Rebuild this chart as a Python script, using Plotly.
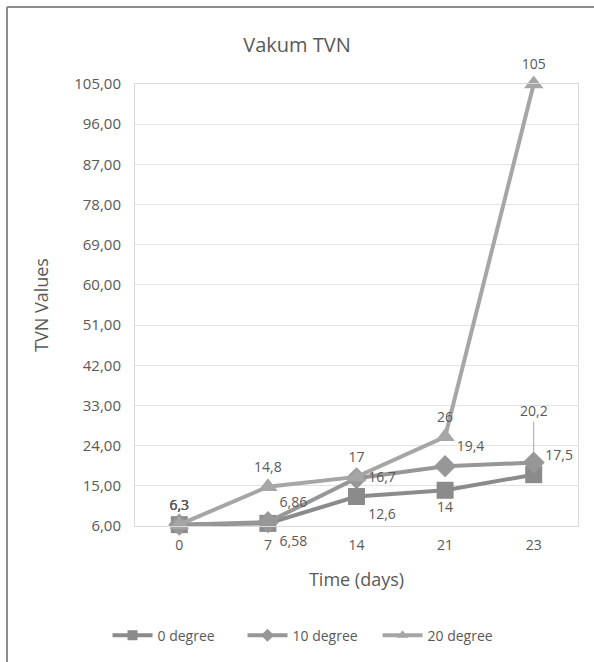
import plotly.graph_objects as go

days = ["0", "7", "14", "21", "23"]
deg0 = [6.3, 6.58, 12.6, 14, 17.5]
deg10 = [6.3, 6.86, 16.7, 19.4, 20.2]
deg20 = [6.3, 14.8, 17, 26, 105]
y_ticks = [6, 15, 24, 33, 42, 51, 60, 69, 78, 87, 96, 105]

TXT = "#595959"
FONT = "Open Sans, Noto Sans, sans-serif"


def lbl(vals):
    return [f"{v:g}".replace(".", ",") for v in vals]


# the last 10 degree label gets a leader line (annotation) instead
labels10 = lbl(deg10)
labels10[-1] = ""

series = [
    ("0 degree", deg0, lbl(deg0), "#8b8b8b", "square",
     ["top center", "bottom right", "bottom right", "bottom center", "top right"]),
    ("10 degree", deg10, labels10, "#979797", "diamond",
     ["top center", "top right", "middle right", "top right", "top center"]),
    ("20 degree", deg20, lbl(deg20), "#a6a6a6", "triangle-up",
     ["top center"] * 5),
]

fig = go.Figure()
for name, vals, text, col, sym, pos in series:
    fig.add_trace(
        go.Scatter(
            x=days,
            y=vals,
            name=name,
            mode="lines+markers+text",
            line=dict(color=col, width=4),
            marker=dict(symbol=sym, size=17, color=col),
            text=text,
            textposition=pos,
            textfont=dict(size=14, color=TXT),
            cliponaxis=False,
            showlegend=False,
        )
    )
    # legend entry with smaller marker, like the Excel legend
    fig.add_trace(
        go.Scatter(
            x=[None],
            y=[None],
            name=name,
            mode="lines+markers",
            line=dict(color=col, width=4),
            marker=dict(symbol=sym, size=10, color=col),
        )
    )

fig.add_annotation(
    x=len(days) - 1,
    y=deg10[-1],
    text=lbl(deg10)[-1],
    showarrow=True,
    arrowhead=0,
    arrowwidth=1,
    arrowcolor="#a6a6a6",
    ax=0,
    ay=-52,
    standoff=8,
    font=dict(size=14, color=TXT),
)

fig.update_layout(
    width=594,
    height=662,
    margin=dict(l=135, r=16, t=84, b=135),
    paper_bgcolor="white",
    plot_bgcolor="white",
    font=dict(family=FONT, color=TXT),
    title=dict(
        text="Vakum TVN",
        x=0.5,
        xanchor="center",
        y=1 - 45 / 662,
        yanchor="middle",
        font=dict(size=20, color=TXT),
    ),
    legend=dict(
        orientation="h",
        x=-0.062,
        xanchor="left",
        y=-0.245,
        yanchor="middle",
        font=dict(size=14, color=TXT),
        itemwidth=40,
        entrywidth=80,
    ),
    shapes=[
        dict(type="line", xref="paper", yref="paper",
             x0=-0.289, x1=-0.289, y0=-0.5, y1=1.174,
             line=dict(color="#8c8c8c", width=2), layer="below"),
        dict(type="line", xref="paper", yref="paper",
             x0=-0.289, x1=1.3, y0=1.174, y1=1.174,
             line=dict(color="#8c8c8c", width=2), layer="below"),
    ],
)
fig.update_xaxes(
    type="category",
    range=[-0.5, 4.5],
    title=dict(text="Time (days)", font=dict(size=18, color=TXT), standoff=20),
    tickfont=dict(size=14, color=TXT),
    ticklabelstandoff=6,
    showgrid=False,
    showline=True,
    linecolor="#d9d9d9",
    mirror=True,
    ticks="",
)
fig.update_yaxes(
    range=[6, 105],
    tickvals=y_ticks,
    ticktext=[f"{v:.2f}".replace(".", ",") for v in y_ticks],
    title=dict(text="TVN Values", font=dict(size=18, color=TXT), standoff=20),
    tickfont=dict(size=15, color=TXT),
    ticklabelstandoff=10,
    showgrid=True,
    gridcolor="#e3e3e3",
    showline=True,
    linecolor="#d9d9d9",
    mirror=True,
    zeroline=False,
    ticks="",
)

fig.write_html(
    "out.html",
    config={"displayModeBar": False},
    post_script="document.body.style.margin='0';",
)
